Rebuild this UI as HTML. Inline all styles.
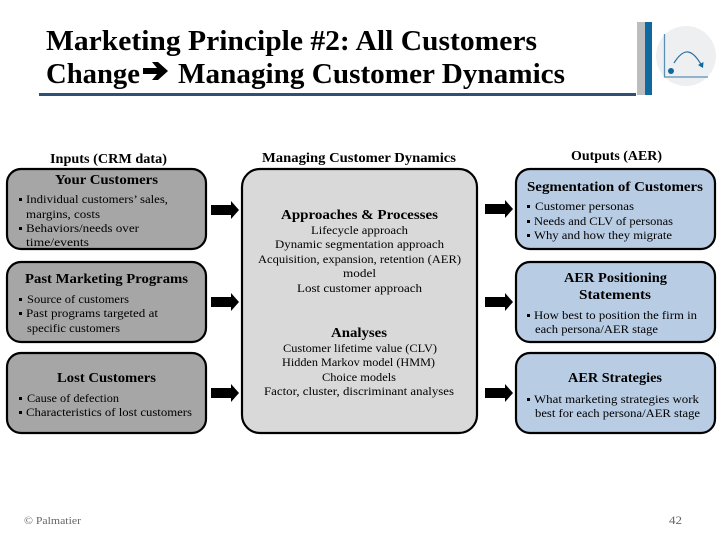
<!DOCTYPE html>
<html><head><meta charset="utf-8"><style>
html,body{margin:0;padding:0;background:#fff;width:720px;height:540px;overflow:hidden}
svg{display:block}
text{font-family:"Liberation Serif",serif;fill:#000;font-size:12px}
.h{font-weight:bold;font-size:14px}
.t{font-weight:bold;font-size:29px}
.g{fill:#666;font-size:11px}
</style></head><body>
<svg width="720" height="540" viewBox="0 0 720 540" xmlns="http://www.w3.org/2000/svg">
<defs>
<path id="a" d="M0 -5H20V-9L28 0L20 9V5H0Z" fill="#000"/>
</defs>
<text class="t" x="46" y="50" textLength="491" lengthAdjust="spacingAndGlyphs">Marketing Principle #2: All Customers</text>
<text class="t" x="46" y="83" textLength="94" lengthAdjust="spacingAndGlyphs">Change</text>
<path d="M143 68H157L152 62H158L168 71L158 80H152L157 74H143Z" fill="#000"/>
<text class="t" x="178" y="83" textLength="387" lengthAdjust="spacingAndGlyphs">Managing Customer Dynamics</text>
<rect x="39" y="93" width="597" height="3" fill="#2f4f75"/>
<rect x="637" y="22" width="8" height="73" fill="#bcbdbf"/>
<rect x="645" y="22" width="7" height="73" fill="#0f689e"/>
<circle cx="686" cy="56" r="30" fill="#eeeff1"/>
<path d="M664.5 34V77H708" fill="none" stroke="#5a8fb5" stroke-width="1.3"/>
<circle cx="671" cy="71" r="3" fill="#0f689e"/>
<path d="M674 63C679 55 684 51.500 688 52C693 52.500 698 59 702 66" fill="none" stroke="#2d6f9f" stroke-width="1.2"/>
<path d="M698 65L703 68L703.500 62Z" fill="#0f689e"/>

<g stroke="#000" stroke-width="2.2">
<rect x="7" y="169" width="199" height="80" rx="14" fill="#a6a6a6"/>
<rect x="7" y="262" width="199" height="80" rx="14" fill="#a6a6a6"/>
<rect x="7" y="353" width="199" height="80" rx="14" fill="#a6a6a6"/>
<rect x="242" y="169" width="235" height="264" rx="18" fill="#d9d9d9"/>
<rect x="516" y="169" width="199" height="80" rx="14" fill="#b8cce4"/>
<rect x="516" y="262" width="199" height="80" rx="14" fill="#b8cce4"/>
<rect x="516" y="353" width="199" height="80" rx="14" fill="#b8cce4"/>
</g>

<use href="#a" x="211" y="210"/><use href="#a" x="211" y="302"/><use href="#a" x="211" y="393"/>
<use href="#a" x="485" y="209"/><use href="#a" x="485" y="302"/><use href="#a" x="485" y="393"/>

<text class="h" x="50" y="163" textLength="117" lengthAdjust="spacingAndGlyphs">Inputs (CRM data)</text>
<text class="h" x="262" y="162" textLength="194" lengthAdjust="spacingAndGlyphs">Managing Customer Dynamics</text>
<text class="h" x="571" y="160" textLength="91" lengthAdjust="spacingAndGlyphs">Outputs (AER)</text>

<text class="h" x="55" y="184" textLength="103" lengthAdjust="spacingAndGlyphs">Your Customers</text>
<text x="26" y="203" textLength="142" lengthAdjust="spacingAndGlyphs">Individual customers’ sales,</text>
<text x="26" y="218" textLength="74" lengthAdjust="spacingAndGlyphs">margins, costs</text>
<text x="26" y="232" textLength="113" lengthAdjust="spacingAndGlyphs">Behaviors/needs over</text>
<text x="26" y="246" textLength="63" lengthAdjust="spacingAndGlyphs">time/events</text>

<text class="h" x="25" y="283" textLength="163" lengthAdjust="spacingAndGlyphs">Past Marketing Programs</text>
<text x="27" y="303" textLength="102" lengthAdjust="spacingAndGlyphs">Source of customers</text>
<text x="26" y="317" textLength="132" lengthAdjust="spacingAndGlyphs">Past programs targeted at</text>
<text x="27" y="332" textLength="93" lengthAdjust="spacingAndGlyphs">specific customers</text>

<text class="h" x="57" y="382" textLength="99" lengthAdjust="spacingAndGlyphs">Lost Customers</text>
<text x="27" y="402" textLength="92" lengthAdjust="spacingAndGlyphs">Cause of defection</text>
<text x="26" y="416" textLength="166" lengthAdjust="spacingAndGlyphs">Characteristics of lost customers</text>

<g fill="#000">
<rect x="19" y="198" width="3" height="3"/><rect x="19" y="227" width="3" height="3"/>
<rect x="19" y="298" width="3" height="3"/><rect x="19" y="312" width="3" height="3"/>
<rect x="19" y="397" width="3" height="3"/><rect x="19" y="411" width="3" height="3"/>
<rect x="527" y="205" width="3" height="3"/><rect x="527" y="220" width="3" height="3"/><rect x="527" y="234" width="3" height="3"/>
<rect x="527" y="314" width="3" height="3"/><rect x="527" y="398" width="3" height="3"/>
</g>

<text class="h" x="281" y="219" textLength="157" lengthAdjust="spacingAndGlyphs">Approaches &amp; Processes</text>
<text x="311" y="234" textLength="97" lengthAdjust="spacingAndGlyphs">Lifecycle approach</text>
<text x="275" y="248" textLength="169" lengthAdjust="spacingAndGlyphs">Dynamic segmentation approach</text>
<text x="258" y="263" textLength="203" lengthAdjust="spacingAndGlyphs">Acquisition, expansion, retention (AER)</text>
<text x="343" y="277" textLength="33" lengthAdjust="spacingAndGlyphs">model</text>
<text x="297" y="292" textLength="125" lengthAdjust="spacingAndGlyphs">Lost customer approach</text>
<text class="h" x="331" y="337" textLength="56" lengthAdjust="spacingAndGlyphs">Analyses</text>
<text x="283" y="352" textLength="154" lengthAdjust="spacingAndGlyphs">Customer lifetime value (CLV)</text>
<text x="282" y="366" textLength="153" lengthAdjust="spacingAndGlyphs">Hidden Markov model (HMM)</text>
<text x="322" y="381" textLength="74" lengthAdjust="spacingAndGlyphs">Choice models</text>
<text x="264" y="395" textLength="190" lengthAdjust="spacingAndGlyphs">Factor, cluster, discriminant analyses</text>

<text class="h" x="527" y="191" textLength="176" lengthAdjust="spacingAndGlyphs">Segmentation of Customers</text>
<text x="535" y="210" textLength="99" lengthAdjust="spacingAndGlyphs">Customer personas</text>
<text x="534" y="225" textLength="139" lengthAdjust="spacingAndGlyphs">Needs and CLV of personas</text>
<text x="534" y="239" textLength="138" lengthAdjust="spacingAndGlyphs">Why and how they migrate</text>

<text class="h" x="564" y="282" textLength="103" lengthAdjust="spacingAndGlyphs">AER Positioning</text>
<text class="h" x="579" y="299" textLength="72" lengthAdjust="spacingAndGlyphs">Statements</text>
<text x="534" y="319" textLength="163" lengthAdjust="spacingAndGlyphs">How best to position the firm in</text>
<text x="535" y="333" textLength="123" lengthAdjust="spacingAndGlyphs">each persona/AER stage</text>

<text class="h" x="568" y="382" textLength="94" lengthAdjust="spacingAndGlyphs">AER Strategies</text>
<text x="534" y="403" textLength="165" lengthAdjust="spacingAndGlyphs">What marketing strategies work</text>
<text x="535" y="417" textLength="165" lengthAdjust="spacingAndGlyphs">best for each persona/AER stage</text>

<text class="g" x="24" y="524" textLength="57" lengthAdjust="spacingAndGlyphs">© Palmatier</text>
<text class="g" x="669" y="524" textLength="13" lengthAdjust="spacingAndGlyphs" style="font-size:12px">42</text>
</svg>
</body></html>
